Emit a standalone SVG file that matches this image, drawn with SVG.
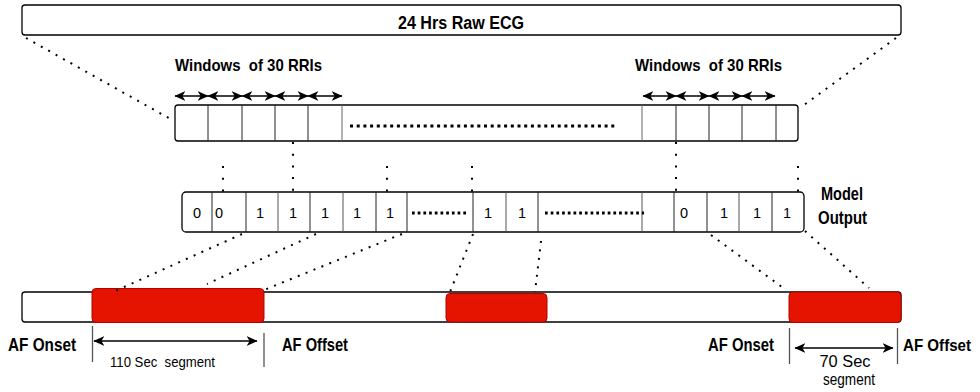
<svg xmlns="http://www.w3.org/2000/svg" width="980" height="392" viewBox="0 0 980 392">
<style>
  .box{fill:#fff;stroke:#000;stroke-width:1.3}
  .div{stroke:#222;stroke-width:1}
  .b{font-family:"Liberation Sans",Arial,sans-serif;font-weight:bold;fill:#000;white-space:pre}
  .r{font-family:"Liberation Sans",Arial,sans-serif;fill:#000;white-space:pre}
  .dig{font-family:"Liberation Sans",Arial,sans-serif;font-size:14.5px;fill:#000;text-anchor:middle}
  .dots{stroke:#000;stroke-width:3;fill:none}
  .dl{stroke:#000;stroke-width:2;fill:none;stroke-dasharray:2 6.5}
  .dv{stroke:#000;stroke-width:2;fill:none;stroke-dasharray:2 9.7}
  .arr{stroke:#000;stroke-width:1.3;fill:none;marker-start:url(#ah);marker-end:url(#ah)}
  .red{fill:#e51400;stroke:#b20000;stroke-width:1}
  .tick{stroke:#555;stroke-width:1.3}
</style>
<defs>
  <marker id="ah" viewBox="0 0 10 10" refX="9.5" refY="5" markerWidth="11" markerHeight="11" markerUnits="userSpaceOnUse" orient="auto-start-reverse">
    <path d="M0,0.5 L10,5 L0,9.5 L2.8,5 Z" fill="#000"/>
  </marker>
</defs>

<g id="raw-ecg">
  <rect class="box" x="22" y="5" width="879" height="30" rx="3"/>
  <text class="b" x="461" y="28.5" font-size="17.5" text-anchor="middle" textLength="126" lengthAdjust="spacingAndGlyphs">24 Hrs Raw ECG</text>
</g>

<g id="windows-label-left">
  <text class="b" x="175" y="70.5" font-size="17" textLength="147" lengthAdjust="spacingAndGlyphs">Windows  of 30 RRIs</text>
</g>
<g id="windows-label-right">
  <text class="b" x="635" y="70.5" font-size="17" textLength="147" lengthAdjust="spacingAndGlyphs">Windows  of 30 RRIs</text>
</g>

<g id="rri-windows">
  <rect class="box" x="175" y="105" width="623" height="36" rx="3"/>
  <g class="div">
    <line x1="208" y1="105" x2="208" y2="141"/>
    <line x1="242" y1="105" x2="242" y2="141"/>
    <line x1="275" y1="105" x2="275" y2="141"/>
    <line x1="308" y1="105" x2="308" y2="141"/>
    <line x1="342" y1="105" x2="342" y2="141" stroke="#666"/>
    <line x1="642" y1="105" x2="642" y2="141" stroke="#666"/>
    <line x1="676" y1="105" x2="676" y2="141"/>
    <line x1="709" y1="105" x2="709" y2="141"/>
    <line x1="742" y1="105" x2="742" y2="141"/>
    <line x1="776" y1="105" x2="776" y2="141"/>
  </g>
  <line class="dots" x1="350" y1="126" x2="616" y2="126" stroke-dasharray="3 3.7"/>
</g>

<g id="model-output">
  <rect class="box" x="182" y="192" width="622" height="40" rx="4"/>
  <g class="div">
    <line x1="212" y1="192" x2="212" y2="232"/>
    <line x1="246" y1="192" x2="246" y2="232"/>
    <line x1="278" y1="192" x2="278" y2="232" stroke="#555"/>
    <line x1="310" y1="192" x2="310" y2="232"/>
    <line x1="343" y1="192" x2="343" y2="232" stroke="#555"/>
    <line x1="376" y1="192" x2="376" y2="232"/>
    <line x1="407" y1="192" x2="407" y2="232"/>
    <line x1="473" y1="192" x2="473" y2="232"/>
    <line x1="506" y1="192" x2="506" y2="232" stroke="#555"/>
    <line x1="538" y1="192" x2="538" y2="232"/>
    <line x1="642" y1="192" x2="642" y2="232" stroke="#555"/>
    <line x1="674" y1="192" x2="674" y2="232"/>
    <line x1="707" y1="192" x2="707" y2="232"/>
    <line x1="739" y1="192" x2="739" y2="232" stroke="#555"/>
    <line x1="772" y1="192" x2="772" y2="232"/>
  </g>
  <text class="dig" x="197" y="218">0</text>
  <text class="dig" x="219" y="218">0</text>
  <text class="dig" x="260" y="218">1</text>
  <text class="dig" x="293" y="218">1</text>
  <text class="dig" x="325" y="218">1</text>
  <text class="dig" x="357" y="218">1</text>
  <text class="dig" x="390" y="218">1</text>
  <text class="dig" x="488" y="218">1</text>
  <text class="dig" x="522" y="218">1</text>
  <text class="dig" x="684" y="218">0</text>
  <text class="dig" x="724" y="218">1</text>
  <text class="dig" x="757" y="218">1</text>
  <text class="dig" x="787" y="218">1</text>
  <line class="dots" x1="412" y1="213" x2="469" y2="213" stroke-dasharray="2.7 3"/>
  <line class="dots" x1="545" y1="213" x2="644" y2="213" stroke-dasharray="2.7 3"/>
</g>

<g id="model-output-label">
  <text class="b" x="842" y="200" font-size="19" text-anchor="middle" textLength="42" lengthAdjust="spacingAndGlyphs">Model</text>
  <text class="b" x="842.5" y="224" font-size="19" text-anchor="middle" textLength="49" lengthAdjust="spacingAndGlyphs">Output</text>
</g>

<g id="timeline">
  <rect class="box" x="22" y="292" width="879" height="30" rx="3"/>
</g>
<g id="af-episode-1">
  <rect class="red" x="92" y="288.5" width="172" height="34" rx="4"/>
</g>
<g id="af-episode-2">
  <rect class="red" x="446" y="293.5" width="101" height="28.5" rx="4"/>
</g>
<g id="af-episode-3">
  <rect class="red" x="789" y="292" width="112" height="30.5" rx="4"/>
</g>

<g id="labels">
  <text class="b" x="8" y="351" font-size="19" textLength="68" lengthAdjust="spacingAndGlyphs">AF Onset</text>
  <text class="b" x="282" y="351" font-size="19" textLength="66" lengthAdjust="spacingAndGlyphs">AF Offset</text>
  <text class="b" x="708" y="351" font-size="19" textLength="66" lengthAdjust="spacingAndGlyphs">AF Onset</text>
  <text class="b" x="903" y="351" font-size="17" textLength="68" lengthAdjust="spacingAndGlyphs">AF Offset</text>
  <text class="r" x="110" y="366.5" font-size="15.5" textLength="105" lengthAdjust="spacingAndGlyphs">110 Sec  segment</text>
  <text class="r" x="845" y="366.5" font-size="16" text-anchor="middle" textLength="51" lengthAdjust="spacingAndGlyphs">70 Sec</text>
  <text class="r" x="849" y="385" font-size="16" text-anchor="middle" textLength="52" lengthAdjust="spacingAndGlyphs">segment</text>
</g>

<g id="connectors">
  <line class="dl" x1="26" y1="38" x2="174" y2="121"/>
  <line class="dl" x1="896" y1="38" x2="804" y2="105"/>
  <line class="arr" x1="175" y1="96" x2="208" y2="96"/>
  <line class="arr" x1="208" y1="96" x2="242" y2="96"/>
  <line class="arr" x1="242" y1="96" x2="275" y2="96"/>
  <line class="arr" x1="275" y1="96" x2="308" y2="96"/>
  <line class="arr" x1="308" y1="96" x2="342" y2="96"/>
  <line class="arr" x1="643" y1="96" x2="676" y2="96"/>
  <line class="arr" x1="676" y1="96" x2="709" y2="96"/>
  <line class="arr" x1="709" y1="96" x2="742" y2="96"/>
  <line class="arr" x1="742" y1="96" x2="775" y2="96"/>
  <line class="dv" x1="223" y1="166" x2="223" y2="192"/>
  <line class="dv" x1="293" y1="142" x2="293" y2="192"/>
  <line class="dv" x1="387" y1="166" x2="387" y2="192"/>
  <line class="dv" x1="472" y1="166" x2="472" y2="192"/>
  <line class="dv" x1="676" y1="142" x2="676" y2="192"/>
  <line class="dv" x1="798" y1="166" x2="798" y2="192"/>
  <line class="dl" x1="242" y1="234" x2="113" y2="292"/>
  <line class="dl" x1="316" y1="234" x2="207" y2="284"/>
  <line class="dl" x1="402" y1="234" x2="264" y2="290"/>
  <line class="dl" x1="473" y1="234" x2="450" y2="292" stroke-dasharray="2 8.5"/>
  <line class="dl" x1="541" y1="241" x2="535" y2="292" stroke-dasharray="2 9.5"/>
  <line class="dl" x1="711" y1="235" x2="786" y2="290"/>
  <line class="dl" x1="805" y1="231" x2="869" y2="288"/>
  <line class="tick" x1="92.5" y1="326" x2="92.5" y2="362" stroke="#000"/>
  <line class="tick" x1="264" y1="333" x2="264" y2="367"/>
  <line class="tick" x1="789.5" y1="328" x2="789.5" y2="364"/>
  <line class="tick" x1="897.5" y1="328" x2="897.5" y2="364"/>
  <line class="arr" x1="94" y1="341" x2="257" y2="341"/>
  <line class="arr" x1="795" y1="348" x2="893" y2="348"/>
</g>
</svg>
